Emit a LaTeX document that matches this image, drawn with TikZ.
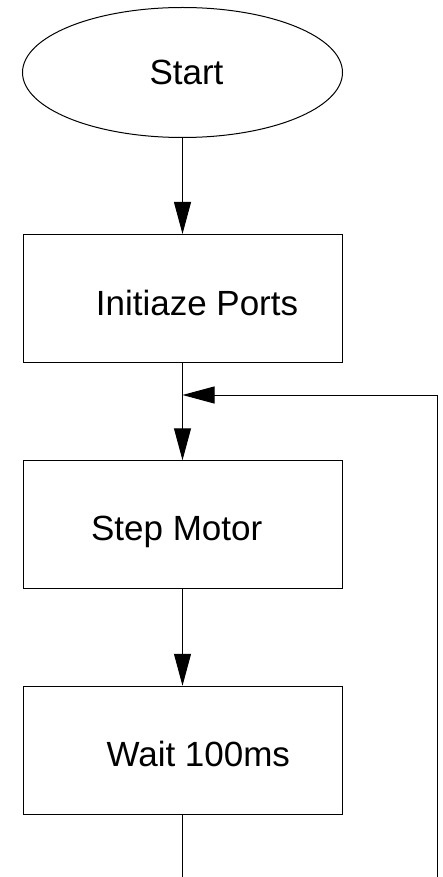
\documentclass[tikz,border=0pt]{standalone}
\usepackage{fontspec}
\setmainfont{Liberation Sans}
\usetikzlibrary{arrows.meta,shapes.geometric}
\begin{document}
\begin{tikzpicture}[x=1pt,y=-1pt,
  line width=1pt,
  term/.style={draw,ellipse,minimum width=320pt,minimum height=130pt,inner sep=0pt},
  procbox/.style={draw,rectangle,minimum width=319pt,minimum height=128pt,inner sep=0pt},
  lbl/.style={anchor=base,inner sep=0pt,font=\fontsize{35}{42}\selectfont},
  flow/.style={-{Triangle[length=32pt,width=17pt]}}]
\useasboundingbox (0,0) rectangle (443,877);
\node[term] (start) at (182.5,72.5) {};
\node[procbox] (init) at (182.5,298.5) {};
\node[procbox] (motor) at (182.5,524.75) {};
\node[procbox] (wait) at (182.5,750.25) {};
\node[lbl] (tstart) at (186.5,85) {Start};
\node[lbl] (tinit) at (197,315) {Initiaze Ports};
\node[lbl] (tmotor) at (176.7,540.7) {Step Motor};
\node[lbl] (twait) at (198.3,766.7) {Wait 100ms};
\coordinate (j) at (182.5,395);
\coordinate (bl) at (182.5,900);
\coordinate (br) at (437.5,900);
\coordinate (tr) at (437.5,395);
\draw[flow] (start.south) -- (init.north);
\draw (init.south) -- (j);
\draw[flow] (j) -- (motor.north);
\draw[flow] (motor.south) -- (wait.north);
\draw (wait.south) -- (bl) -- (br) -- (tr);
\draw[flow] (tr) -- (j);
\end{tikzpicture}
\end{document}
